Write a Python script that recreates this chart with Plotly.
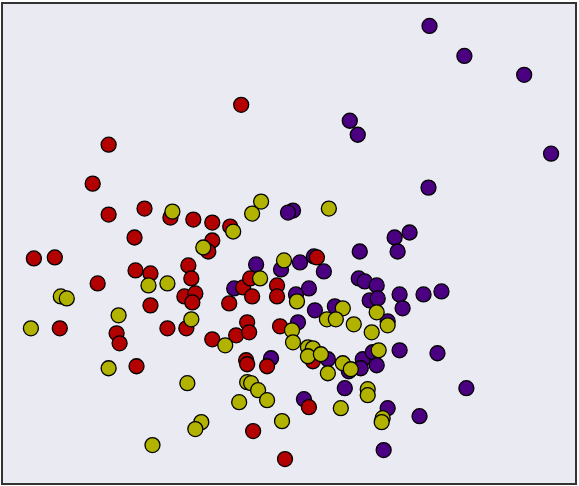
import plotly.graph_objs as go

# point positions (x to the right, y upwards)
red_x = [240, 107, 91, 107, 143, 169, 192, 211, 229, 133, 211, 207, 32, 53, 134, 149,
         96, 187, 190, 149, 183, 194, 191, 228, 242, 249, 251, 276, 276, 316, 58, 115,
         118, 166, 185, 211, 235, 246, 248, 279, 245, 246, 266, 135, 312, 308, 252, 284]
red_y = [381, 341, 302, 271, 277, 268, 266, 263, 259, 248, 245, 234, 227, 228, 215, 212,
         202, 220, 207, 180, 189, 192, 183, 182, 198, 207, 189, 200, 189, 228, 157, 152,
         142, 157, 157, 146, 150, 163, 153, 159, 125, 121, 119, 119, 124, 78, 54, 26]

purple_x = [429, 464, 524, 349, 357, 551, 428, 292, 287, 394, 409, 397, 359, 255, 280, 299,
            313, 323, 358, 364, 376, 233, 308, 295, 369, 377, 399, 423, 441, 314, 334, 402,
            297, 387, 270, 327, 348, 362, 360, 372, 376, 399, 437, 344, 303, 387, 419, 466, 383]
purple_y = [460, 430, 411, 365, 351, 332, 298, 275, 273, 248, 253, 234, 234, 221, 216, 223,
            229, 214, 207, 204, 200, 197, 197, 191, 185, 187, 191, 191, 194, 175, 179, 177,
            163, 164, 127, 126, 114, 126, 117, 133, 120, 135, 132, 97, 86, 77, 69, 97, 35]

yellow_x = [260, 251, 328, 171, 232, 202, 283, 259, 147, 166, 59, 65, 117, 190, 296, 342,
            376, 326, 335, 353, 387, 291, 371, 29, 224, 292, 307, 312, 307, 320, 327, 342,
            350, 378, 107, 186, 246, 250, 257, 266, 238, 367, 367, 340, 382, 381, 200, 194, 281, 151]
yellow_y = [284, 272, 277, 274, 254, 238, 225, 207, 200, 202, 189, 187, 170, 166, 184, 177,
            173, 166, 166, 161, 160, 155, 153, 157, 140, 143, 138, 137, 129, 131, 112, 122,
            116, 135, 117, 102, 103, 102, 95, 85, 83, 96, 90, 77, 67, 63, 63, 56, 64, 40]

fig = go.Figure()


def add_group(xs, ys, color):
    fig.add_trace(go.Scatter(
        x=xs, y=ys, mode="markers",
        marker=dict(size=15, color=color, line=dict(color="black", width=1.3)),
        showlegend=False,
    ))


add_group(purple_x, purple_y, "#4B0082")
add_group(red_x, red_y, "#B30000")
add_group(yellow_x, yellow_y, "#B2B200")

axis_style = dict(showgrid=False, zeroline=False, showticklabels=False, ticks="",
                  showline=True, mirror=True, linecolor="#333333", linewidth=1.5)
fig.update_xaxes(range=[1, 575], **axis_style)
fig.update_yaxes(range=[2, 482], **axis_style)

fig.update_layout(
    width=579, height=486,
    margin=dict(l=3, r=2, t=3, b=3),
    plot_bgcolor="#EAEAF2",
    paper_bgcolor="white",
)

# the page body has a default 8px margin; drop it so the figure sits at 0,0
fig.write_html("out.html", config={"displayModeBar": False},
               post_script="document.body.style.margin='0';")
